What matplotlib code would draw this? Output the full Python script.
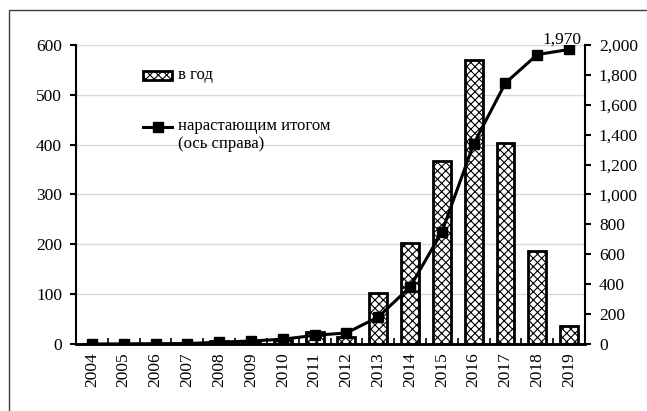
import matplotlib
matplotlib.use("Agg")
import matplotlib.pyplot as plt
import matplotlib.ticker as mticker
from matplotlib.patches import Rectangle
from matplotlib.lines import Line2D
import numpy as np

years = ["2004", "2005", "2006", "2007", "2008", "2009", "2010", "2011",
         "2012", "2013", "2014", "2015", "2016", "2017", "2018", "2019"]
per_year = [0, 1, 1, 1, 6, 6, 8, 25, 14, 103, 203, 368, 569, 404, 187, 36]
cumulative = [0, 1, 2, 3, 12, 20, 32, 58, 74, 180, 381, 749, 1338, 1746, 1936, 1970]
label_year_total = "в год"
label_cumulative = "нарастающим итогом\n(ось справа)"

plt.rcParams["font.family"] = ["Liberation Serif", "DejaVu Serif"]
plt.rcParams["hatch.linewidth"] = 0.8

W, H = 647, 411
fig = plt.figure(figsize=(W / 100, H / 100), dpi=100)

def fx(px):
    return px / W

def fy(py):
    return 1 - py / H

ax = fig.add_axes([fx(76), fy(344), fx(585) - fx(76), fy(45) - fy(344)])
ax2 = ax.twinx()

x = np.arange(len(years))
ax.bar(x, per_year, width=0.56, facecolor="white", edgecolor="black",
       linewidth=2.0, hatch="xxxx", zorder=3)

ax.set_ylim(0, 600)
ax.set_xlim(-0.5, len(years) - 0.5)
ax.set_yticks(range(0, 601, 100))
ax.yaxis.grid(True, color="#d9d9d9", linewidth=1.0, zorder=0)
ax.set_axisbelow(True)
ax.set_xticks(x)
ax.set_xticklabels(years, rotation=90)
ax.tick_params(axis="x", length=0, pad=6, labelsize=12.5)
ax.set_xticks(np.arange(-0.5, len(years), 1.0), minor=True)
ax.tick_params(axis="x", which="minor", direction="in", length=4, width=1.2)
ax.tick_params(axis="y", direction="out", length=4, width=1.5, labelsize=12.5, pad=6)

ax2.plot(x, cumulative, color="black", linewidth=2.2, marker="s",
         markersize=6.5, zorder=5)
ax2.set_ylim(0, 2000)
ax2.set_yticks(range(0, 2001, 200))
ax2.yaxis.set_major_formatter(mticker.FuncFormatter(lambda v, p: f"{int(v):,}"))
ax2.tick_params(axis="y", direction="out", length=4, width=1.5, labelsize=12.5, pad=6)
ax2.annotate(f"{cumulative[-1]:,}", xy=(x[-1], cumulative[-1]),
             xytext=(-5, 1), textcoords="offset points",
             ha="center", va="bottom", fontsize=12.5)

for a in (ax, ax2):
    a.spines["top"].set_visible(False)
    a.spines["left"].set_linewidth(1.5)
    a.spines["right"].set_linewidth(1.5)
    a.spines["bottom"].set_linewidth(1.8)
ax.spines["right"].set_visible(False)
ax2.spines["left"].set_visible(False)

# legend drawn in figure pixels
fig.add_artist(Rectangle((fx(143), fy(80)), fx(172) - fx(143), fy(71) - fy(80),
                         transform=fig.transFigure, facecolor="white",
                         edgecolor="black", linewidth=2.0, hatch="xxxx"))
fig.text(fx(178), fy(75), label_year_total, ha="left", va="center", fontsize=12)
fig.add_artist(Line2D([fx(143), fx(172)], [fy(127), fy(127)],
                      transform=fig.transFigure, color="black", linewidth=2.2))
fig.add_artist(Line2D([fx(158)], [fy(127)], transform=fig.transFigure,
                      color="black", marker="s", markersize=6.5))
fig.text(fx(178), fy(118), label_cumulative, ha="left", va="top",
         fontsize=12, linespacing=1.15)

# outer frame
fig.add_artist(Rectangle((fx(9), -0.05), 1.1, fy(10) + 0.05,
                         transform=fig.transFigure, facecolor="none",
                         edgecolor="#404040", linewidth=1.0))

fig.savefig("out.png", dpi=100)
